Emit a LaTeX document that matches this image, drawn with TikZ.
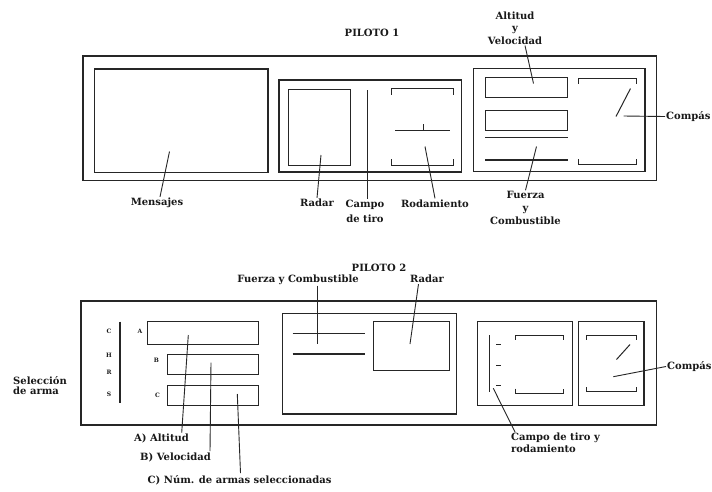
\documentclass[tikz,border=0pt]{standalone}
\usepackage{fontspec}
\setmainfont{DejaVu Serif}
\usetikzlibrary{calc}
\begin{document}
\begin{tikzpicture}[x=1pt,y=-1pt,
  outer/.style={draw=black!85,line width=1.4pt},
  panel/.style={draw=black!85,line width=1.1pt},
  inner/.style={draw=black!85,line width=1pt},
  leader/.style={draw=black!85,line width=0.9pt},
  lbl/.style={font=\fontsize{10}{11}\selectfont\bfseries,inner sep=1pt,text=black!90},
  tiny/.style={font=\fontsize{6}{6}\selectfont\bfseries,inner sep=0pt,text=black!90},
]
\useasboundingbox[fill=white] (0,0) rectangle (712,491);

% ================= PILOTO 1 =================
\node[lbl] (p1) at (372,33) {PILOTO 1};
\draw[outer] (83,56) rectangle (656.5,180.5);
% mensajes
\draw[panel] (94.5,69) rectangle (268,172.5);
% middle panel
\draw[panel] (279,80) rectangle (461.5,172);
\draw[inner] (288,89) rectangle (350.5,165);
% rodamiento brackets
\draw[inner] (391.5,94.5) -- (391.5,88.5) -- (453.5,88.5) -- (453.5,94.5);
\draw[inner] (391.5,159) -- (391.5,165) -- (453.5,165) -- (453.5,159);
\draw[inner] (395,130.5) -- (450,130.5);
\draw[inner] (423.5,130.5) -- (423.5,123.5);
% right panel
\draw[panel] (473.5,68.5) rectangle (645,171.5);
\draw[inner] (485,77.5) rectangle (567.5,97.5);
\draw[inner] (485,110) rectangle (567.5,130);
\draw[inner,line width=1.3pt] (485,137.5) -- (567.5,137.5);
\draw[inner,line width=1.3pt] (485,160) -- (567.5,160);
\draw[inner] (578.5,83.5) -- (578.5,78.5) -- (636.5,78.5) -- (636.5,83.5);
\draw[inner] (578.5,159) -- (578.5,164) -- (636.5,164) -- (636.5,159);
\draw[inner] (630.5,88.5) -- (616,116.5);

% labels panel 1
\node[lbl] (mens) at (157,203) {Mensajes};
\node[lbl] (rad1) at (317,203) {Radar};
\node[lbl,align=center,font=\fontsize{10}{15}\selectfont\bfseries] (campo1) at (365,211.5) {Campo\\de tiro};
\node[lbl] (rod1) at (435,203.5) {Rodamiento};
\node[lbl,align=center,font=\fontsize{10}{12.5}\selectfont\bfseries] (altvel) at (515,28) {Altitud\\y\\Velocidad};
\node[lbl,align=center,font=\fontsize{10}{12.8}\selectfont\bfseries] (fuerza1) at (525.5,208) {Fuerza\\y\\Combustible};
\node[lbl,anchor=west] (comp1) at (665,116.5) {Compás};

\coordinate (mensTip) at (169.5,151.5);
\coordinate (rad1Tip) at (321,155);
\coordinate (campo1Tip) at (367.3,90);
\coordinate (rod1Tip) at (425,146.5);
\coordinate (altTip) at (533.5,83.5);
\coordinate (fuerTip) at (536.5,146.5);
\coordinate (comp1Tip) at (623.5,116);

\draw[leader] (mensTip) -- ($(mens.north)+(3,0)$);
\draw[leader] (rad1Tip) -- (rad1.north);
\draw[leader,line width=1.1pt] (campo1Tip) -- ($(campo1.north)+(2.3,0)$);
\draw[leader] (rod1Tip) -- (rod1.north);
\draw[leader] (altvel.south) ++(10,0) -- (altTip);
\draw[leader] (fuerTip) -- (fuerza1.north);
\draw[leader] (comp1Tip) -- (comp1.west);

% ================= PILOTO 2 =================
\node[lbl] (p2) at (379,268) {PILOTO 2};
\draw[outer] (81,301) rectangle (656.5,425);

% weapon selection
\draw[inner,line width=1.2pt] (120,321.5) -- (120,403);
\node[tiny] (lc) at (109,331.5) {C};
\node[tiny] (lh) at (109,355) {H};
\node[tiny] (lr) at (109,372.5) {R};
\node[tiny] (ls) at (109,394) {S};
\node[tiny] (la) at (140,331.5) {A};
\node[tiny] (lb) at (156.5,360.5) {B};
\node[tiny] (lcc) at (157.5,395) {C};
\draw[inner] (147.5,321.5) rectangle (258.5,344.5);
\draw[inner] (167.5,354) rectangle (258.5,374);
\draw[inner] (167.5,385) rectangle (258.5,405);

% fuerza/radar panel
\draw[panel] (282.5,313.5) rectangle (456.5,414);
\draw[inner,line width=1.2pt] (292.5,333.5) -- (365,333.5);
\draw[inner,line width=1.2pt] (292.5,354) -- (365,354);
\draw[inner] (373.5,321.5) rectangle (449,370);

% campo de tiro panel
\draw[panel] (477.5,321.5) rectangle (572.5,405.5);
\draw[inner,line width=1.3pt] (489.3,335) -- (489.3,391.5);
\draw[inner] (496,344) -- (500.5,344);
\draw[inner] (496,365) -- (500.5,365);
\draw[inner] (496,385) -- (500.5,385);
\draw[inner] (515,339.5) -- (515,335) -- (563.5,335) -- (563.5,339.5);
\draw[inner] (515,388.5) -- (515,393) -- (563.5,393) -- (563.5,388.5);

% compass panel
\draw[panel] (578.5,321.5) rectangle (644,405.5);
\draw[inner] (586,339.5) -- (586,335) -- (636.5,335) -- (636.5,339.5);
\draw[inner] (586,387) -- (586,391.5) -- (636.5,391.5) -- (636.5,387);
\draw[inner] (630,344.5) -- (616.5,359.5);

% labels panel 2
\node[lbl] (fc2) at (298,279.5) {Fuerza y Combustible};
\node[lbl] (rad2) at (427,279) {Radar};
\node[lbl,align=left,anchor=west,font=\fontsize{10}{10}\selectfont\bfseries] (sel) at (12,386) {Selección\\de arma};
\node[lbl] (alt2) at (161.5,438.5) {A) Altitud};
\node[lbl] (vel2) at (175.5,457) {B) Velocidad};
\node[lbl,anchor=west] (num2) at (146.5,480) {C) Núm. de armas seleccionadas};
\node[lbl,align=left,anchor=north west,font=\fontsize{10}{12}\selectfont\bfseries] (ctr2) at (510,432) {Campo de tiro y\\rodamiento};
\node[lbl,anchor=west] (comp2) at (666,366.5) {Compás};

\coordinate (fc2Tip) at (317.7,343.5);
\coordinate (rad2Tip) at (410,344);
\coordinate (altTip2) at (188.3,335);
\coordinate (velTip2) at (211,362.5);
\coordinate (numTip2) at (237.3,394);
\coordinate (ctrTip2) at (493.3,388.3);
\coordinate (comp2Tip) at (613.3,376.7);

\draw[leader] (fc2.south -| fc2Tip) -- (fc2Tip);
\draw[leader] ($(rad2.south)+(-8.5,0)$) -- (rad2Tip);
\draw[leader] (altTip2) -- (alt2.north -| 181.7,0);
\draw[leader] (velTip2) -- (vel2.north -| 210,0);
\draw[leader] (numTip2) -- ($(num2.north west)+(94,-1)$);
\draw[leader] (ctrTip2) -- ($(ctr2.north west)+(5,0)$);
\draw[leader] (comp2Tip) -- (comp2.west);
\end{tikzpicture}
\end{document}
